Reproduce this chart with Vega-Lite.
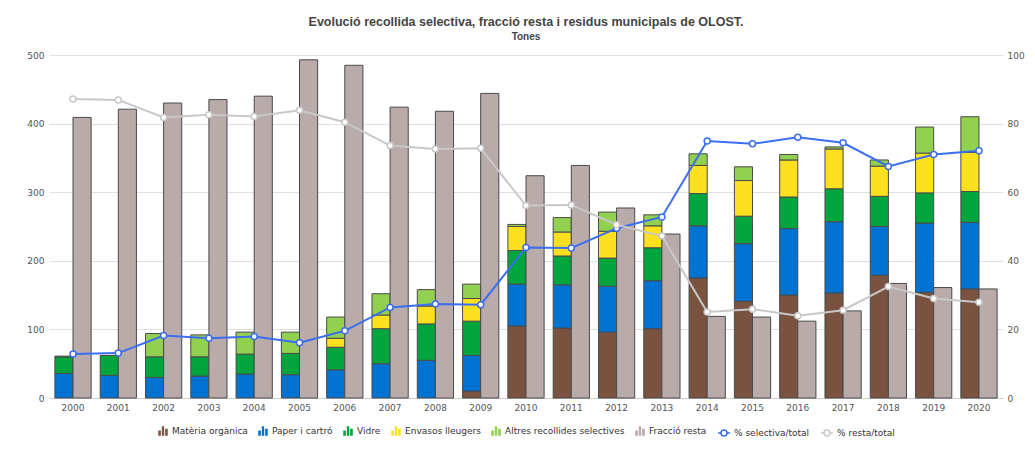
{
  "$schema": "https://vega.github.io/schema/vega-lite/v6.json",
  "autosize": "none",
  "width": 954,
  "height": 343,
  "padding": {"left": 49, "top": 55, "right": 32, "bottom": 58},
  "background": "white",
  "title": {
    "text": "Evolució recollida selectiva, fracció resta i residus municipals de OLOST.",
    "subtitle": "Tones",
    "font": "Liberation Sans",
    "fontSize": 12.5,
    "fontWeight": "bold",
    "color": "#444444",
    "subtitleFont": "Liberation Sans",
    "subtitleFontSize": 10,
    "subtitleFontWeight": "bold",
    "subtitleColor": "#444444",
    "subtitlePadding": 4,
    "anchor": "middle",
    "offset": 9
  },
  "config": {
    "view": {"stroke": null},
    "axis": {"labelFont": "DejaVu Sans", "labelFontSize": 9, "labelColor": "#555555", "ticks": false},
    "legend": {"labelFont": "DejaVu Sans", "labelFontSize": 9, "labelColor": "#333333", "padding": 0}
  },
  "datasets": {
    "bars": [
      {"year": "2000", "grp": "sel", "cat": "Paper i cartró", "ord": 2, "value": 36},
      {"year": "2000", "grp": "sel", "cat": "Vidre", "ord": 3, "value": 24},
      {"year": "2000", "grp": "sel", "cat": "Altres recollides selectives", "ord": 5, "value": 1},
      {"year": "2000", "grp": "resta", "cat": "Fracció resta", "ord": 6, "value": 409},
      {"year": "2001", "grp": "sel", "cat": "Paper i cartró", "ord": 2, "value": 33},
      {"year": "2001", "grp": "sel", "cat": "Vidre", "ord": 3, "value": 29},
      {"year": "2001", "grp": "resta", "cat": "Fracció resta", "ord": 6, "value": 421},
      {"year": "2002", "grp": "sel", "cat": "Paper i cartró", "ord": 2, "value": 30},
      {"year": "2002", "grp": "sel", "cat": "Vidre", "ord": 3, "value": 30},
      {"year": "2002", "grp": "sel", "cat": "Altres recollides selectives", "ord": 5, "value": 34},
      {"year": "2002", "grp": "resta", "cat": "Fracció resta", "ord": 6, "value": 430},
      {"year": "2003", "grp": "sel", "cat": "Paper i cartró", "ord": 2, "value": 32},
      {"year": "2003", "grp": "sel", "cat": "Vidre", "ord": 3, "value": 28},
      {"year": "2003", "grp": "sel", "cat": "Altres recollides selectives", "ord": 5, "value": 32},
      {"year": "2003", "grp": "resta", "cat": "Fracció resta", "ord": 6, "value": 435},
      {"year": "2004", "grp": "sel", "cat": "Paper i cartró", "ord": 2, "value": 35},
      {"year": "2004", "grp": "sel", "cat": "Vidre", "ord": 3, "value": 29},
      {"year": "2004", "grp": "sel", "cat": "Altres recollides selectives", "ord": 5, "value": 32},
      {"year": "2004", "grp": "resta", "cat": "Fracció resta", "ord": 6, "value": 440},
      {"year": "2005", "grp": "sel", "cat": "Paper i cartró", "ord": 2, "value": 34},
      {"year": "2005", "grp": "sel", "cat": "Vidre", "ord": 3, "value": 31},
      {"year": "2005", "grp": "sel", "cat": "Altres recollides selectives", "ord": 5, "value": 31},
      {"year": "2005", "grp": "resta", "cat": "Fracció resta", "ord": 6, "value": 493},
      {"year": "2006", "grp": "sel", "cat": "Paper i cartró", "ord": 2, "value": 41},
      {"year": "2006", "grp": "sel", "cat": "Vidre", "ord": 3, "value": 33},
      {"year": "2006", "grp": "sel", "cat": "Envasos lleugers", "ord": 4, "value": 13},
      {"year": "2006", "grp": "sel", "cat": "Altres recollides selectives", "ord": 5, "value": 31},
      {"year": "2006", "grp": "resta", "cat": "Fracció resta", "ord": 6, "value": 485},
      {"year": "2007", "grp": "sel", "cat": "Paper i cartró", "ord": 2, "value": 50},
      {"year": "2007", "grp": "sel", "cat": "Vidre", "ord": 3, "value": 51},
      {"year": "2007", "grp": "sel", "cat": "Envasos lleugers", "ord": 4, "value": 20},
      {"year": "2007", "grp": "sel", "cat": "Altres recollides selectives", "ord": 5, "value": 31},
      {"year": "2007", "grp": "resta", "cat": "Fracció resta", "ord": 6, "value": 424},
      {"year": "2008", "grp": "sel", "cat": "Paper i cartró", "ord": 2, "value": 55},
      {"year": "2008", "grp": "sel", "cat": "Vidre", "ord": 3, "value": 53},
      {"year": "2008", "grp": "sel", "cat": "Envasos lleugers", "ord": 4, "value": 26},
      {"year": "2008", "grp": "sel", "cat": "Altres recollides selectives", "ord": 5, "value": 24},
      {"year": "2008", "grp": "resta", "cat": "Fracció resta", "ord": 6, "value": 418},
      {"year": "2009", "grp": "sel", "cat": "Matèria orgànica", "ord": 1, "value": 10},
      {"year": "2009", "grp": "sel", "cat": "Paper i cartró", "ord": 2, "value": 52},
      {"year": "2009", "grp": "sel", "cat": "Vidre", "ord": 3, "value": 50},
      {"year": "2009", "grp": "sel", "cat": "Envasos lleugers", "ord": 4, "value": 33},
      {"year": "2009", "grp": "sel", "cat": "Altres recollides selectives", "ord": 5, "value": 21},
      {"year": "2009", "grp": "resta", "cat": "Fracció resta", "ord": 6, "value": 444},
      {"year": "2010", "grp": "sel", "cat": "Matèria orgànica", "ord": 1, "value": 105},
      {"year": "2010", "grp": "sel", "cat": "Paper i cartró", "ord": 2, "value": 61},
      {"year": "2010", "grp": "sel", "cat": "Vidre", "ord": 3, "value": 49},
      {"year": "2010", "grp": "sel", "cat": "Envasos lleugers", "ord": 4, "value": 35},
      {"year": "2010", "grp": "sel", "cat": "Altres recollides selectives", "ord": 5, "value": 3},
      {"year": "2010", "grp": "resta", "cat": "Fracció resta", "ord": 6, "value": 324},
      {"year": "2011", "grp": "sel", "cat": "Matèria orgànica", "ord": 1, "value": 102},
      {"year": "2011", "grp": "sel", "cat": "Paper i cartró", "ord": 2, "value": 63},
      {"year": "2011", "grp": "sel", "cat": "Vidre", "ord": 3, "value": 42},
      {"year": "2011", "grp": "sel", "cat": "Envasos lleugers", "ord": 4, "value": 35},
      {"year": "2011", "grp": "sel", "cat": "Altres recollides selectives", "ord": 5, "value": 21},
      {"year": "2011", "grp": "resta", "cat": "Fracció resta", "ord": 6, "value": 339},
      {"year": "2012", "grp": "sel", "cat": "Matèria orgànica", "ord": 1, "value": 96},
      {"year": "2012", "grp": "sel", "cat": "Paper i cartró", "ord": 2, "value": 67},
      {"year": "2012", "grp": "sel", "cat": "Vidre", "ord": 3, "value": 41},
      {"year": "2012", "grp": "sel", "cat": "Envasos lleugers", "ord": 4, "value": 39},
      {"year": "2012", "grp": "sel", "cat": "Altres recollides selectives", "ord": 5, "value": 28},
      {"year": "2012", "grp": "resta", "cat": "Fracció resta", "ord": 6, "value": 277},
      {"year": "2013", "grp": "sel", "cat": "Matèria orgànica", "ord": 1, "value": 101},
      {"year": "2013", "grp": "sel", "cat": "Paper i cartró", "ord": 2, "value": 70},
      {"year": "2013", "grp": "sel", "cat": "Vidre", "ord": 3, "value": 48},
      {"year": "2013", "grp": "sel", "cat": "Envasos lleugers", "ord": 4, "value": 32},
      {"year": "2013", "grp": "sel", "cat": "Altres recollides selectives", "ord": 5, "value": 16},
      {"year": "2013", "grp": "resta", "cat": "Fracció resta", "ord": 6, "value": 239},
      {"year": "2014", "grp": "sel", "cat": "Matèria orgànica", "ord": 1, "value": 175},
      {"year": "2014", "grp": "sel", "cat": "Paper i cartró", "ord": 2, "value": 76},
      {"year": "2014", "grp": "sel", "cat": "Vidre", "ord": 3, "value": 47},
      {"year": "2014", "grp": "sel", "cat": "Envasos lleugers", "ord": 4, "value": 41},
      {"year": "2014", "grp": "sel", "cat": "Altres recollides selectives", "ord": 5, "value": 17},
      {"year": "2014", "grp": "resta", "cat": "Fracció resta", "ord": 6, "value": 119},
      {"year": "2015", "grp": "sel", "cat": "Matèria orgànica", "ord": 1, "value": 141},
      {"year": "2015", "grp": "sel", "cat": "Paper i cartró", "ord": 2, "value": 84},
      {"year": "2015", "grp": "sel", "cat": "Vidre", "ord": 3, "value": 40},
      {"year": "2015", "grp": "sel", "cat": "Envasos lleugers", "ord": 4, "value": 52},
      {"year": "2015", "grp": "sel", "cat": "Altres recollides selectives", "ord": 5, "value": 20},
      {"year": "2015", "grp": "resta", "cat": "Fracció resta", "ord": 6, "value": 118},
      {"year": "2016", "grp": "sel", "cat": "Matèria orgànica", "ord": 1, "value": 150},
      {"year": "2016", "grp": "sel", "cat": "Paper i cartró", "ord": 2, "value": 97},
      {"year": "2016", "grp": "sel", "cat": "Vidre", "ord": 3, "value": 46},
      {"year": "2016", "grp": "sel", "cat": "Envasos lleugers", "ord": 4, "value": 54},
      {"year": "2016", "grp": "sel", "cat": "Altres recollides selectives", "ord": 5, "value": 8},
      {"year": "2016", "grp": "resta", "cat": "Fracció resta", "ord": 6, "value": 112},
      {"year": "2017", "grp": "sel", "cat": "Matèria orgànica", "ord": 1, "value": 153},
      {"year": "2017", "grp": "sel", "cat": "Paper i cartró", "ord": 2, "value": 104},
      {"year": "2017", "grp": "sel", "cat": "Vidre", "ord": 3, "value": 48},
      {"year": "2017", "grp": "sel", "cat": "Envasos lleugers", "ord": 4, "value": 58},
      {"year": "2017", "grp": "sel", "cat": "Altres recollides selectives", "ord": 5, "value": 3},
      {"year": "2017", "grp": "resta", "cat": "Fracció resta", "ord": 6, "value": 127},
      {"year": "2018", "grp": "sel", "cat": "Matèria orgànica", "ord": 1, "value": 179},
      {"year": "2018", "grp": "sel", "cat": "Paper i cartró", "ord": 2, "value": 71},
      {"year": "2018", "grp": "sel", "cat": "Vidre", "ord": 3, "value": 44},
      {"year": "2018", "grp": "sel", "cat": "Envasos lleugers", "ord": 4, "value": 44},
      {"year": "2018", "grp": "sel", "cat": "Altres recollides selectives", "ord": 5, "value": 9},
      {"year": "2018", "grp": "resta", "cat": "Fracció resta", "ord": 6, "value": 167},
      {"year": "2019", "grp": "sel", "cat": "Matèria orgànica", "ord": 1, "value": 154},
      {"year": "2019", "grp": "sel", "cat": "Paper i cartró", "ord": 2, "value": 101},
      {"year": "2019", "grp": "sel", "cat": "Vidre", "ord": 3, "value": 44},
      {"year": "2019", "grp": "sel", "cat": "Envasos lleugers", "ord": 4, "value": 58},
      {"year": "2019", "grp": "sel", "cat": "Altres recollides selectives", "ord": 5, "value": 38},
      {"year": "2019", "grp": "resta", "cat": "Fracció resta", "ord": 6, "value": 161},
      {"year": "2020", "grp": "sel", "cat": "Matèria orgànica", "ord": 1, "value": 159},
      {"year": "2020", "grp": "sel", "cat": "Paper i cartró", "ord": 2, "value": 97},
      {"year": "2020", "grp": "sel", "cat": "Vidre", "ord": 3, "value": 45},
      {"year": "2020", "grp": "sel", "cat": "Envasos lleugers", "ord": 4, "value": 57},
      {"year": "2020", "grp": "sel", "cat": "Altres recollides selectives", "ord": 5, "value": 52},
      {"year": "2020", "grp": "resta", "cat": "Fracció resta", "ord": 6, "value": 159}
    ],
    "pct": [
      {"year": "2000", "series": "% selectiva/total", "pct": 12.8},
      {"year": "2001", "series": "% selectiva/total", "pct": 13.1},
      {"year": "2002", "series": "% selectiva/total", "pct": 18.2},
      {"year": "2003", "series": "% selectiva/total", "pct": 17.4},
      {"year": "2004", "series": "% selectiva/total", "pct": 17.9},
      {"year": "2005", "series": "% selectiva/total", "pct": 16.1},
      {"year": "2006", "series": "% selectiva/total", "pct": 19.6},
      {"year": "2007", "series": "% selectiva/total", "pct": 26.4},
      {"year": "2008", "series": "% selectiva/total", "pct": 27.4},
      {"year": "2009", "series": "% selectiva/total", "pct": 27.2},
      {"year": "2010", "series": "% selectiva/total", "pct": 43.9},
      {"year": "2011", "series": "% selectiva/total", "pct": 43.7},
      {"year": "2012", "series": "% selectiva/total", "pct": 49.5},
      {"year": "2013", "series": "% selectiva/total", "pct": 52.8},
      {"year": "2014", "series": "% selectiva/total", "pct": 74.9},
      {"year": "2015", "series": "% selectiva/total", "pct": 74.1},
      {"year": "2016", "series": "% selectiva/total", "pct": 76.0},
      {"year": "2017", "series": "% selectiva/total", "pct": 74.4},
      {"year": "2018", "series": "% selectiva/total", "pct": 67.5},
      {"year": "2019", "series": "% selectiva/total", "pct": 71.0},
      {"year": "2020", "series": "% selectiva/total", "pct": 72.1},
      {"year": "2000", "series": "% resta/total", "pct": 87.2},
      {"year": "2001", "series": "% resta/total", "pct": 86.9},
      {"year": "2002", "series": "% resta/total", "pct": 81.8},
      {"year": "2003", "series": "% resta/total", "pct": 82.6},
      {"year": "2004", "series": "% resta/total", "pct": 82.1},
      {"year": "2005", "series": "% resta/total", "pct": 83.9},
      {"year": "2006", "series": "% resta/total", "pct": 80.4},
      {"year": "2007", "series": "% resta/total", "pct": 73.6},
      {"year": "2008", "series": "% resta/total", "pct": 72.6},
      {"year": "2009", "series": "% resta/total", "pct": 72.8},
      {"year": "2010", "series": "% resta/total", "pct": 56.1},
      {"year": "2011", "series": "% resta/total", "pct": 56.3},
      {"year": "2012", "series": "% resta/total", "pct": 50.5},
      {"year": "2013", "series": "% resta/total", "pct": 47.2},
      {"year": "2014", "series": "% resta/total", "pct": 25.1},
      {"year": "2015", "series": "% resta/total", "pct": 25.9},
      {"year": "2016", "series": "% resta/total", "pct": 24.0},
      {"year": "2017", "series": "% resta/total", "pct": 25.6},
      {"year": "2018", "series": "% resta/total", "pct": 32.5},
      {"year": "2019", "series": "% resta/total", "pct": 29.0},
      {"year": "2020", "series": "% resta/total", "pct": 27.9}
    ]
  },
  "layer": [
    {
      "data": {"name": "bars"},
      "transform": [
        {"stack": "value", "groupby": ["year", "grp"], "sort": [{"field": "ord", "order": "ascending"}], "as": ["v0", "v1"]}
      ],
      "mark": {"type": "bar", "stroke": "#4a4a4a", "strokeWidth": 1},
      "encoding": {
        "x": {
          "field": "year", "type": "ordinal", "title": null,
          "scale": {"paddingInner": 0.2, "paddingOuter": 0.13},
          "axis": {"labelAngle": 0, "labelPadding": 5, "domainColor": "#cccccc", "grid": false}
        },
        "xOffset": {"field": "grp", "type": "nominal", "sort": ["sel", "resta"], "scale": {"paddingInner": 0, "paddingOuter": 0}},
        "y": {
          "field": "v0", "type": "quantitative", "title": null,
          "scale": {"domain": [0, 500], "nice": false},
          "axis": {"values": [0, 100, 200, 300, 400, 500], "grid": true, "gridColor": "#e0e0e0", "domain": false, "labelPadding": 5}
        },
        "y2": {"field": "v1"},
        "color": {
          "field": "cat", "type": "nominal",
          "scale": {
            "domain": ["Matèria orgànica", "Paper i cartró", "Vidre", "Envasos lleugers", "Altres recollides selectives", "Fracció resta"],
            "range": ["#7a5240", "#0072d1", "#00a63d", "#fde01e", "#92d050", "#b8abaa"]
          },
          "legend": {
            "title": null,
            "orient": "none",
            "legendX": 109,
            "legendY": 371,
            "direction": "horizontal",
            "columnPadding": 10,
            "symbolType": "M-1,1L-1,-0.1L-0.45,-0.1L-0.45,1ZM-0.25,1L-0.25,-1L0.25,-1L0.25,1ZM0.45,1L0.45,-0.5L1,-0.5L1,1Z",
            "symbolSize": 90,
            "symbolStrokeWidth": 0,
            "labelOffset": 4
          }
        }
      }
    },
    {
      "data": {"name": "pct"},
      "mark": {"type": "line", "strokeWidth": 2, "point": {"filled": false, "fill": "#ffffff", "size": 36, "strokeWidth": 1.5}},
      "encoding": {
        "x": {"field": "year", "type": "ordinal", "title": null},
        "y": {
          "field": "pct", "type": "quantitative", "title": null,
          "scale": {"domain": [0, 100], "nice": false},
          "axis": {"orient": "right", "values": [0, 20, 40, 60, 80, 100], "grid": false, "domain": false, "labelPadding": 4}
        },
        "stroke": {
          "field": "series", "type": "nominal",
          "scale": {"domain": ["% selectiva/total", "% resta/total"], "range": ["#3b6ef0", "#c8c8c8"]},
          "legend": {
            "title": null,
            "orient": "none",
            "legendX": 668,
            "legendY": 371,
            "direction": "horizontal",
            "columnPadding": 8,
            "symbolType": "M-1,0L-0.5,0M0.5,0L1,0M0.5,0A0.5,0.5,0,1,1,-0.5,0A0.5,0.5,0,1,1,0.5,0",
            "symbolSize": 144,
            "symbolFillColor": "#ffffff",
            "symbolStrokeWidth": 1.5,
            "labelOffset": 3
          }
        }
      }
    }
  ],
  "resolve": {"scale": {"y": "independent"}}
}
